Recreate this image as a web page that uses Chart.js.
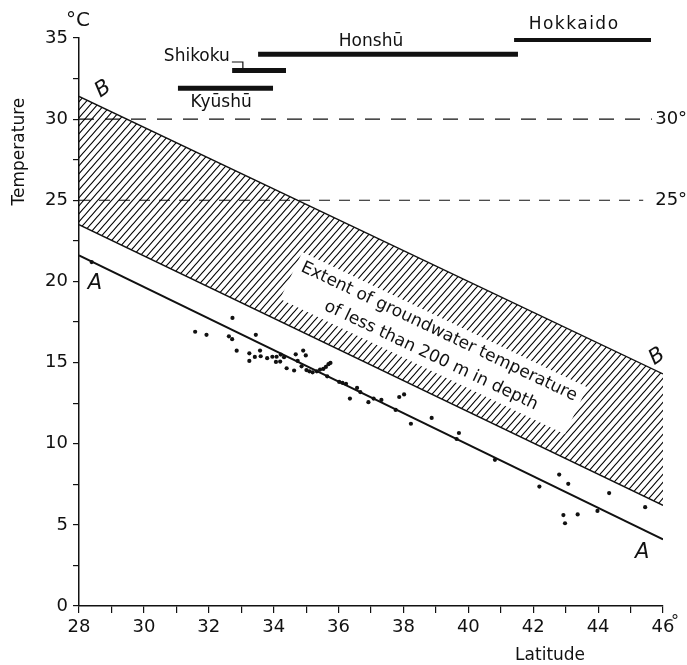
<!DOCTYPE html>
<html lang="en">
<head>
<meta charset="UTF-8">
<title>Groundwater temperature and latitude</title>
<script src="https://cdn.jsdelivr.net/npm/chart.js@4"></script>
<style>
  html, body { margin: 0; padding: 0; background: #fff; }
  #chart { display: block; }
</style>
</head>
<body>
<canvas id="chart" width="687" height="665"></canvas>
<script>
// wells: latitude (deg N) and groundwater temperature (deg C)
const pointLat = [28.39, 31.58, 31.93, 32.73, 32.62, 32.72, 33.45, 32.86, 33.25, 33.25, 33.42, 33.58, 33.60,
  33.80, 33.96, 34.09, 34.22, 34.07, 34.20, 34.32, 34.40, 34.63, 34.68, 34.74, 34.91, 34.99, 34.86, 35.01,
  35.10, 35.20, 35.33, 35.43, 35.53, 35.61, 35.69, 35.75, 35.65, 36.02, 36.12, 36.23, 36.35, 36.57, 36.67,
  36.92, 37.08, 37.32, 37.76, 37.87, 38.02, 38.23, 38.87, 39.71, 39.64, 40.82, 42.19, 42.80, 43.08, 44.34,
  42.93, 42.98, 43.37, 43.98, 45.45];
const pointTemp = [21.19, 16.90, 16.71, 17.75, 16.62, 16.44, 16.71, 15.73, 15.57, 15.10, 15.35, 15.74, 15.39,
  15.27, 15.36, 15.36, 15.49, 15.04, 15.06, 15.33, 14.65, 14.51, 15.51, 15.10, 15.74, 15.44, 14.77, 14.54,
  14.46, 14.40, 14.46, 14.57, 14.61, 14.73, 14.90, 14.98, 14.15, 13.81, 13.75, 13.69, 12.78, 13.44, 13.18,
  12.56, 12.78, 12.70, 12.08, 12.88, 13.04, 11.23, 11.59, 10.66, 10.29, 9.01, 7.36, 8.10, 7.53, 6.96,
  5.60, 5.10, 5.64, 5.86, 6.09];

// lines at both ends of the latitude range
const lineLat = [28, 46];
const lineB = [31.4, 14.3];
const bandLow = [23.5, 6.2];
const lineA = [21.6, 4.1];

// island extents
const islands = ['Kyūshū', 'Shikoku', 'Honshū', 'Hokkaido'];
const islandFrom = [31.05, 32.72, 33.52, 41.41];
const islandTo = [33.98, 34.38, 41.53, 45.63];
const islandTemp = [31.9, 33.0, 34.0, 34.9];

// dashed reference temperatures
const refTemps = [30, 25];
const refEnd = [45.66, 45.39];

const latLabels = [28, 30, 32, 34, 36, 38, 40, 42, 44, 46];
const tempLabels = [0, 5, 10, 15, 20, 25, 30, 35];

const INK = '#111';
const FONT = "'DejaVu Sans', sans-serif";

function hatchPattern() {
  const w = 7, h = 8;
  const c = document.createElement('canvas');
  c.width = w; c.height = h;
  const g = c.getContext('2d');
  g.strokeStyle = '#000';
  g.lineWidth = 1.15;
  g.beginPath();
  for (let k = -1; k <= 1; k++) {
    g.moveTo(-w + k * w, 2 * h);
    g.lineTo(2 * w + k * w, -h);
  }
  g.stroke();
  return g.createPattern(c, 'repeat');
}

function seg(xs, ys) {
  return xs.map((v, i) => ({ x: v, y: ys[i] }));
}

const datasets = [];

// band: lower edge, then B filled down to it
datasets.push({ data: seg(lineLat, bandLow), showLine: true, borderColor: INK, borderWidth: 1.4, pointRadius: 0, fill: false });
datasets.push({ data: seg(lineLat, lineB), showLine: true, borderColor: INK, borderWidth: 1.4, pointRadius: 0, fill: '-1', backgroundColor: hatchPattern() });
datasets.push({ data: seg(lineLat, lineA), showLine: true, borderColor: INK, borderWidth: 2, pointRadius: 0, fill: false });

refTemps.forEach((t, i) => {
  datasets.push({
    data: [{ x: lineLat[0], y: t }, { x: refEnd[i], y: t }],
    showLine: true, borderColor: INK, borderWidth: 1.1, pointRadius: 0, fill: false,
    borderDash: i === 0 ? [15, 11] : [11, 9]
  });
});

islands.forEach((name, i) => {
  datasets.push({
    data: [{ x: islandFrom[i], y: islandTemp[i] }, { x: islandTo[i], y: islandTemp[i] }],
    showLine: true, borderColor: INK, borderWidth: 5, borderCapStyle: 'butt', pointRadius: 0, fill: false
  });
});

datasets.push({
  data: seg(pointLat, pointTemp), showLine: false,
  pointRadius: 2.1, pointBackgroundColor: INK, pointBorderWidth: 0
});

const annotations = {
  id: 'annotations',
  afterDatasetsDraw(chart) {
    const { ctx, scales: { x, y }, chartArea } = chart;
    ctx.save();
    ctx.fillStyle = INK;
    ctx.strokeStyle = INK;

    // band text along the slope
    const ang = Math.atan2(y.getPixelForValue(lineB[1]) - y.getPixelForValue(lineB[0]),
      x.getPixelForValue(lineLat[1]) - x.getPixelForValue(lineLat[0]));
    ctx.save();
    ctx.translate(x.getPixelForValue(38.93), y.getPixelForValue(16.2));
    ctx.rotate(ang);
    ctx.font = '17px ' + FONT;
    const l1 = 'Extent of groundwater temperature';
    const l2 = 'of less than 200 m in depth';
    const w = ctx.measureText(l1).width + 12;
    ctx.fillStyle = '#fff';
    ctx.fillRect(-w / 2, -26, w, 52);
    ctx.fillStyle = INK;
    ctx.textAlign = 'center';
    ctx.textBaseline = 'middle';
    ctx.fillText(l1, 0, -12.5);
    ctx.fillText(l2, 3, 12.5);
    ctx.restore();

    // A and B letters
    ctx.font = 'italic 21px ' + FONT;
    ctx.textAlign = 'center';
    ctx.textBaseline = 'middle';
    [[28.74, 31.85], [45.82, 15.37]].forEach(p => {
      ctx.save();
      ctx.translate(x.getPixelForValue(p[0]), y.getPixelForValue(p[1]));
      ctx.rotate(-0.6);
      ctx.fillText('B', 0, 0);
      ctx.restore();
    });
    [[28.49, 19.88], [45.36, 3.27]].forEach(p => {
      ctx.fillText('A', x.getPixelForValue(p[0]), y.getPixelForValue(p[1]));
    });

    // island names
    ctx.font = '17px ' + FONT;
    ctx.textBaseline = 'middle';
    ctx.textAlign = 'center';
    ctx.fillText(islands[0], x.getPixelForValue(32.38), y.getPixelForValue(30.99));
    ctx.fillText(islands[2], x.getPixelForValue(37.0), y.getPixelForValue(34.75));
    ctx.save();
    ctx.letterSpacing = '1.5px';
    ctx.fillText(islands[3], x.getPixelForValue(43.26), y.getPixelForValue(35.8));
    ctx.restore();
    ctx.textAlign = 'right';
    const sx = x.getPixelForValue(32.65), sy = y.getPixelForValue(33.83);
    ctx.fillText(islands[1], sx, sy);
    // bracket from the Shikoku label down to its bar
    ctx.lineWidth = 1.2;
    ctx.beginPath();
    ctx.moveTo(sx + 2, sy + 5);
    ctx.lineTo(sx + 13, sy + 5);
    ctx.lineTo(sx + 13, y.getPixelForValue(islandTemp[1]) - 2);
    ctx.stroke();

    // labels of the dashed lines
    ctx.font = '18px ' + FONT;
    ctx.textAlign = 'left';
    refTemps.forEach(t => {
      ctx.fillText(t + '°', x.getPixelForValue(45.76), y.getPixelForValue(t));
    });

    // unit and axis titles
    ctx.font = '20px ' + FONT;
    ctx.fillText('°C', x.getPixelForValue(27.6), y.getPixelForValue(36.05));
    ctx.font = '16px ' + FONT;
    ctx.textBaseline = 'alphabetic';
    ctx.fillText('°', x.getPixelForValue(46) + 8, chartArea.bottom + 20);

    ctx.font = '17px ' + FONT;
    ctx.textAlign = 'center';
    ctx.textBaseline = 'middle';
    ctx.fillText('Latitude', x.getPixelForValue(42.52), chartArea.bottom + 50);
    ctx.save();
    ctx.translate(20, y.getPixelForValue(28.0));
    ctx.rotate(-Math.PI / 2);
    ctx.fillText('Temperature', 0, 0);
    ctx.restore();

    ctx.restore();
  }
};

new Chart(document.getElementById('chart'), {
  type: 'scatter',
  data: { datasets },
  options: {
    responsive: false,
    animation: false,
    layout: { padding: { top: 38, right: 24, left: 0, bottom: 0 } },
    plugins: { legend: { display: false }, tooltip: { enabled: false } },
    scales: {
      x: {
        type: 'linear', min: 28, max: 46,
        afterFit(s) { s.height = 59; },
        ticks: {
          stepSize: 1, autoSkip: false, maxRotation: 0, padding: 4,
          color: INK, font: { family: FONT, size: 18 },
          callback: v => latLabels.includes(v) ? String(v) : ''
        },
        grid: { drawOnChartArea: false, tickLength: 7, color: INK, lineWidth: 1.2 },
        border: { color: INK, width: 1.5 }
      },
      y: {
        type: 'linear', min: 0, max: 35,
        afterFit(s) { s.width = 79; },
        ticks: {
          stepSize: 2.5, autoSkip: false, padding: 5,
          color: INK, font: { family: FONT, size: 18 },
          callback: v => tempLabels.includes(v) ? String(v) : ''
        },
        grid: { drawOnChartArea: false, tickLength: 6, color: INK, lineWidth: 1.2 },
        border: { color: INK, width: 1.5 }
      }
    }
  },
  plugins: [annotations]
});
</script>
</body>
</html>
